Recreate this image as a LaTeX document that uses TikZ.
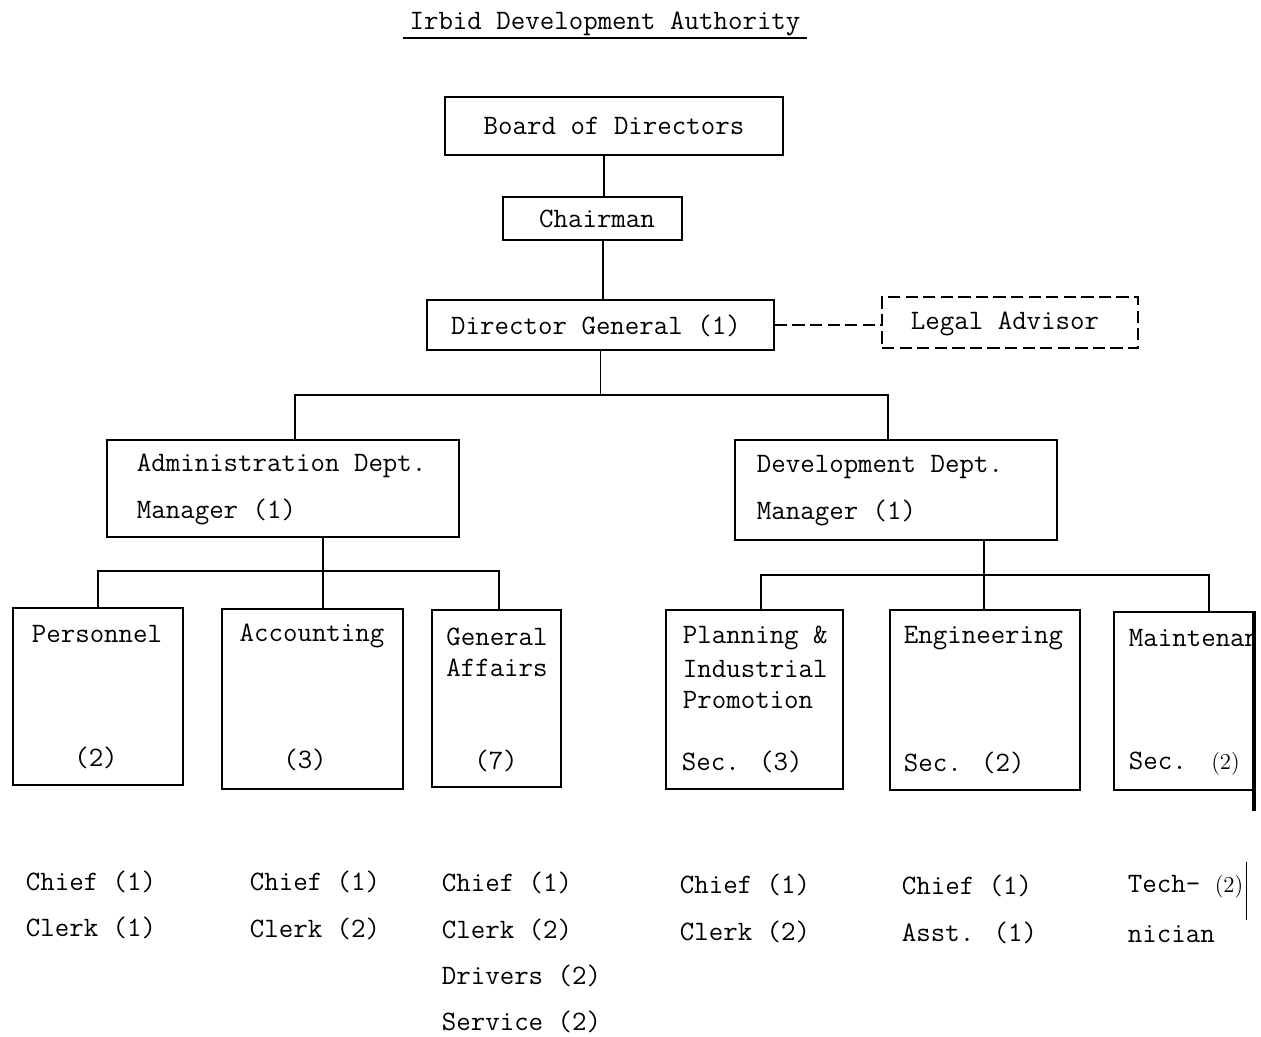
\documentclass[tikz,border=0pt]{standalone}
\usetikzlibrary{positioning,fit}

\begin{document}
\begin{tikzpicture}[x=0.02cm,y=-0.02cm,line width=1pt,
  font=\ttfamily\fontsize{16}{19}\selectfont,
  box/.style={draw,inner sep=0pt},
  txt/.style={inner sep=0pt,anchor=west}]
\newcommand{\smallnum}[1]{{\rmfamily\fontsize{13}{15}\selectfont #1}}
\useasboundingbox (0,0) rectangle (1261,1037);
% title
\node (title) at (605,24) {Irbid Development Authority};
\draw ([yshift=2.5pt]title.south west) -- ([yshift=2.5pt]title.south east);
% top of the chart
\node[box,fit={(445,97) (783,155)}] (board) {};
\node (boardt) at (board) {Board of Directors};
\node[box,fit={(503,197) (682,240)}] (chair) {};
\node (chairt) at (597,219) {Chairman};
\node[box,fit={(427,300) (774,350)}] (dg) {};
\node (dgt) at (596,326) {Director General (1)};
\node[box,dashed,dash pattern=on 7pt off 3pt,fit={(882,297) (1138,348)}] (legal) {};
\node (legalt) at (1005,324) {Legal Advisor};
\draw (board.south -| 604,0) -- (chair.north -| 604,0);
\draw (chair.south -| 603,0) -- (dg.north -| 603,0);
\draw[dashed,dash pattern=on 7pt off 3pt] (dg.east) -- (dg.east -| legal.west);
% departments
\node[box,fit={(107,440) (459,537)}] (admin) {};
\node[txt] (admin1) at (136,466) {Administration Dept.};
\node[txt] (admin2) at (136,512) {Manager (1)};
\node[box,fit={(735,440) (1057,540)}] (dev) {};
\node[txt] (dev1) at (756,467) {Development Dept.};
\node[txt] (dev2) at (756,513) {Manager (1)};
\draw (dg) -- (dg |- 0,396);
\draw (admin.north -| 295,0) -- ++(0,-44) -| (dev.north -| 888,0);
% sections
\node[box,fit={(13,608) (183,785)}] (pers) {};
\node (pers1) at (97,634) {Personnel};
\node (pers2) at (96,758) {(2)};
\node[box,fit={(222,609) (403,789)}] (acct) {};
\node (acct1) at (312,636) {Accounting};
\node (acct2) at (305,760) {(3)};
\node[box,fit={(432,610) (561,787)}] (gen) {};
\node (gen1) at (497,637) {General};
\node (gen2) at (497,668) {Affairs};
\node (gen3) at (496,761) {(7)};
\node[box,fit={(666,610) (843,789)}] (plan) {};
\node[txt] (plan1) at (682,638) {Planning \&};
\node[txt] (plan2) at (682,669) {Industrial};
\node[txt] (plan3) at (682,700) {Promotion};
\node[txt] (plan4) at (681,762) {Sec. (3)};
\node[box,fit={(890,610) (1080,790)}] (eng) {};
\node[txt] (eng1) at (903,638) {Engineering};
\node[txt] (eng2) at (903,763) {Sec. (2)};
\node[box,fit={(1114,612) (1253,790)}] (maint) {};
\begin{scope}
\clip (maint.north west) rectangle (maint.south east);
\node[txt] (maint1) at (1128,638) {Maintenance};
\end{scope}
\node[txt] (maint2) at (1128,764) {Sec.\ \hspace{0.2cm}\smallnum{(2)}};
\draw[line width=2.5pt] (maint.north east) -- ([yshift=-0.4cm]maint.south east);
\draw (admin.south -| 323,0) -- (acct.north -| 323,0);
\draw (pers.north -| 98,0) -- ++(0,-36) -| (gen.north -| 499,0);
\draw (dev.south -| 984,0) -- (eng.north -| 984,0);
\draw (plan.north -| 761,0) -- ++(0,-34) -| (maint.north -| 1209,0);
% staff under each section
\node[txt] (p1) at (25,882) {Chief (1)};
\node[txt] (p2) at (25,928) {Clerk (1)};
\node[txt] (a1) at (249,882) {Chief (1)};
\node[txt] (a2) at (249,929) {Clerk (2)};
\node[txt] (g1) at (441,883) {Chief (1)};
\node[txt] (g2) at (441,930) {Clerk (2)};
\node[txt] (g3) at (441,976) {Drivers (2)};
\node[txt] (g4) at (441,1022) {Service (2)};
\node[txt] (pl1) at (679,885) {Chief (1)};
\node[txt] (pl2) at (679,932) {Clerk (2)};
\node[txt] (e1) at (901,886) {Chief (1)};
\node[txt] (e2) at (901,933) {Asst. (1)};
\node[txt] (m1) at (1127,887) {Tech-\ \smallnum{(2)}};
\node[txt] (m2) at (1127,934) {nician};
\draw[line width=0.5pt] (m1.east -| 1246,0) ++(0,-25) -- ++(0,58);
\end{tikzpicture}
\end{document}
